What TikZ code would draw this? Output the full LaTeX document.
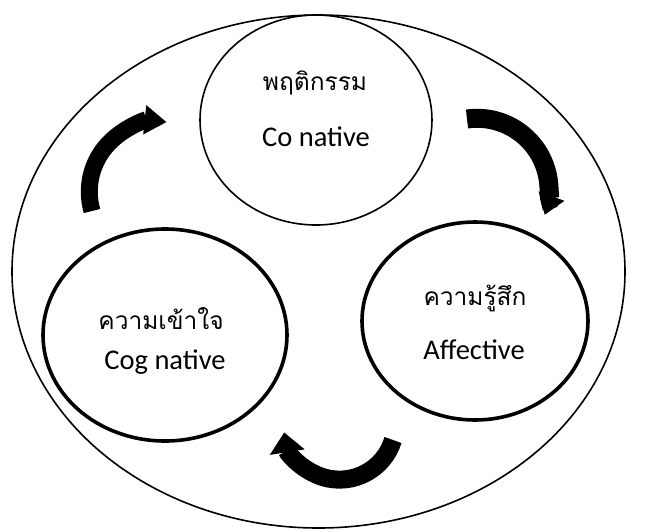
\documentclass[tikz,border=0pt]{standalone}
\usepackage{fontspec}
\setmainfont{Carlito}
\newfontfamily\thaifont[Script=Thai]{Loma}
\usepackage{tikz}
\usetikzlibrary{arrows.meta,positioning,shapes.geometric}

\begin{document}
\begin{tikzpicture}[x=1pt,y=1pt,
  ring/.style={ellipse,draw,inner sep=0pt},
  en/.style={font=\fontsize{28.5}{30}\selectfont},
  th/.style={font=\thaifont\fontsize{24.5}{28}\selectfont},
  flow/.style={line width=#1}]
 \useasboundingbox (0,0) rectangle (667,-531);
 % outer frame and the three parts
 \node[ring,line width=1.6pt,minimum width=613,minimum height=513] (all) at (318.5,-271.5) {};
 \node[ring,line width=1.6pt,minimum width=232,minimum height=210] (beh) at (316,-120) {};
 \node[ring,line width=3.6pt,minimum width=244,minimum height=212] (cog) at (165,-335) {};
 \node[ring,line width=3.6pt,minimum width=226,minimum height=198] (aff) at (475,-321) {};
 % labels
 \node[th] (behth) at (315,-83) {พฤติกรรม};
 \node[en] (behen) at (316,-137) {Co native};
 \node[th] (cogth) at (161,-319) {ความเข้าใจ};
 \node[en] (cogen) at (165,-362) {Cog native};
 \node[th] (affth) at (475,-298) {ความรู้สึก};
 \node[en] (affen) at (474,-350) {Affective};
 % curved arrows between the parts
 \coordinate (ls) at (92,-211);
 \coordinate (rs) at (467,-119);
 \coordinate (bs) at (393,-440);
 \draw[flow=17pt,-{Triangle[length=22pt,width=28pt]}] (ls) arc[start angle=196,end angle=84,radius=70pt];
 \draw[flow=19pt,-{Triangle[length=20pt,width=26pt]}] (rs) arc[start angle=98,end angle=-20,radius=72pt];
 \draw[flow=18pt,-{Triangle[length=20pt,width=34pt]}] (bs) arc[start angle=-17,end angle=-171,radius=56pt];
\end{tikzpicture}
\end{document}
